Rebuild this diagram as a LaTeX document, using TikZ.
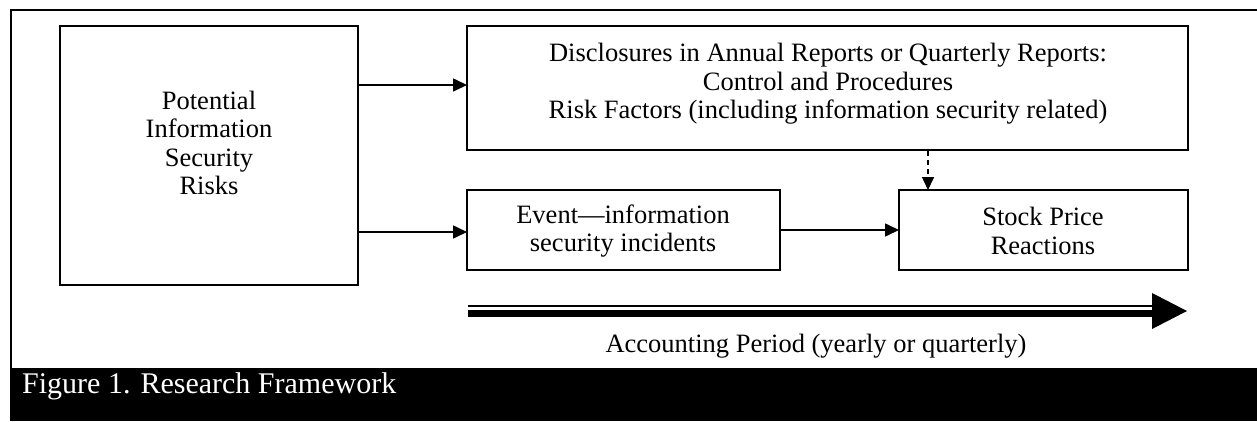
\documentclass[tikz,border=0pt]{standalone}
\usepackage{fontspec}
\setmainfont{Liberation Serif}
\usetikzlibrary{arrows.meta}
\begin{document}
\begin{tikzpicture}[x=1pt,y=-1pt,
  box/.style={draw,line width=2pt},
  txt/.style={align=center,inner sep=0pt,font=\fontsize{26.5}{28.5}\selectfont},
  arr/.style={line width=1.6pt,-{Triangle[length=14pt,width=13pt]}},
  darr/.style={line width=1.6pt,dashed,dash pattern=on 5pt off 4pt,-{Triangle[length=13pt,width=12pt]}}]
\useasboundingbox (0,0) rectangle (1257,421);
% outer frame
\draw[line width=2pt] (1257,10) -- (11,10) -- (11,368);
% boxes
\draw[box] (60,26) rectangle (358,285);
\node[txt] (risk) at (209,143) {Potential\\Information\\Security\\Risks};
\draw[box] (467,26) rectangle (1188,150);
\node[txt] (disc) at (828,84) {Disclosures in Annual Reports or Quarterly Reports:\\Control and Procedures\\Risk Factors (including information security related)};
\draw[box] (467,190) rectangle (780,270);
\node[txt] (event) at (623,231) {Event---information\\security incidents};
\draw[box] (899,190) rectangle (1188,270);
\node[txt] (stock) at (1043,231) {Stock Price\\Reactions};
% connectors
\coordinate (a1s) at (358,85);
\coordinate (a1e) at (467,85);
\draw[arr] (a1s) -- (a1e);
\coordinate (a2s) at (358,232);
\coordinate (a2e) at (467,232);
\draw[arr] (a2s) -- (a2e);
\coordinate (a3s) at (780,230);
\coordinate (a3e) at (899,230);
\draw[arr] (a3s) -- (a3e);
\coordinate (a4s) at (928,151);
\coordinate (a4e) at (928,190);
\draw[darr] (a4s) -- (a4e);
% big arrow
\coordinate (ba) at (468,306);
\coordinate (bb) at (1153,306);
\draw[line width=2pt] (ba) -- (bb);
\fill (468,310) rectangle (1153,316.5);
\fill (1152,293) -- (1187,311) -- (1152,329) -- cycle;
\node[txt] (acc) at (816,346) {Accounting Period (yearly or quarterly)};
% caption
\fill (10,368) rectangle (1257,421);
\node[anchor=base west,inner sep=0pt,text=white,font=\fontsize{30}{34}\selectfont] (cap) at (22,393) {Figure 1. Research Framework};
\end{tikzpicture}
\end{document}
